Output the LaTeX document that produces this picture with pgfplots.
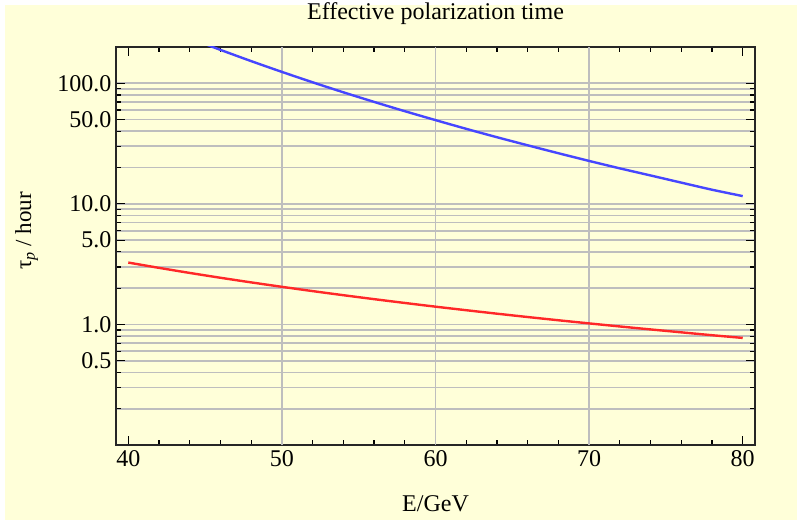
\documentclass[border=0pt]{standalone}
\usepackage{pgfplots}
\pgfplotsset{compat=1.18}
\usepackage{fontspec}
\setmainfont{Liberation Serif}
\definecolor{bgy}{RGB}{255,255,217}
\definecolor{gridg}{RGB}{190,190,190}
\definecolor{cblue}{RGB}{70,70,255}
\definecolor{cred}{RGB}{255,40,40}
\begin{document}
\begin{tikzpicture}
\useasboundingbox (0pt,0pt) rectangle (797pt,520pt);
\fill[white] (0pt,0pt) rectangle (797pt,520pt);
\fill[bgy] (5pt,0pt) rectangle (797pt,515pt);
\begin{axis}[
  at={(116pt,75pt)}, anchor=south west,
  scale only axis, width=639pt, height=398pt,
  xmin=39.2, xmax=80.8,
  ymode=log, ymin=0.1, ymax=200,
  xtick={40,50,60,70,80},
  minor xtick={42,44,46,48,52,54,56,58,62,64,66,68,72,74,76,78},
  extra x ticks={50,60,70},
  extra x tick labels={},
  extra x tick style={grid=major, major tick length=0pt},
  ytick={0.5,1,5,10,50,100},
  yticklabels={0.5,1.0,5.0,10.0,50.0,100.0},
  minor ytick={0.2,0.3,0.4,0.6,0.7,0.8,0.9,2,3,4,6,7,8,9,20,30,40,60,70,80,90},
  ymajorgrids=true, yminorgrids=true,
  grid style={gridg, line width=1.8pt},
  minor grid style={gridg, line width=1.8pt},
  xtick pos=both, ytick pos=both,
  xticklabel pos=bottom, yticklabel pos=left,
  tick align=inside,
  major tick length=9pt, minor tick length=5pt,
  tick style={black, line width=1.2pt},
  axis line style={line width=2pt, black!85},
  axis background/.style={fill=bgy},
  /pgf/number format/assume math mode=true,
  tick label style={font=\fontsize{24}{28}\selectfont},
  xticklabel style={yshift=-2pt},
  yticklabel style={xshift=-1pt},
  title={Effective polarization time},
  title style={font=\fontsize{24}{28}\selectfont, at={(axis description cs:0.5,1)}, anchor=base, yshift=21pt},
  xlabel={E/GeV},
  xlabel style={font=\fontsize{24}{28}\selectfont, at={(axis description cs:0.5,0)}, anchor=base, yshift=-66pt},
  ylabel={τ\textsubscript{\textit{p}} / hour},
  ylabel style={font=\fontsize{23}{27}\selectfont, at={(axis description cs:-0.133,0.538)}, anchor=base},
  clip=true,
]
\addplot[cblue, line width=2.4pt, smooth] coordinates {
(44,237) (45,211.5) (46,189.3) (48,152.7) (50,124.3) (52,101.9) (54,84.2)
(56,70.1) (58,58.7) (60,49.5) (62,41.9) (64,35.7) (66,30.6) (68,26.3)
(70,22.7) (72,19.7) (74,17.2) (76,15.0) (78,13.1) (80,11.6)
};
\addplot[cred, line width=2.4pt, smooth] coordinates {
(40,3.26) (42,2.946) (44,2.674) (46,2.438) (48,2.232) (50,2.051) (52,1.890)
(54,1.748) (56,1.621) (58,1.507) (60,1.404) (62,1.312) (64,1.228) (66,1.152)
(68,1.083) (70,1.020) (72,0.962) (74,0.909) (76,0.860) (78,0.814) (80,0.773)
};
\end{axis}
\end{tikzpicture}
\end{document}
